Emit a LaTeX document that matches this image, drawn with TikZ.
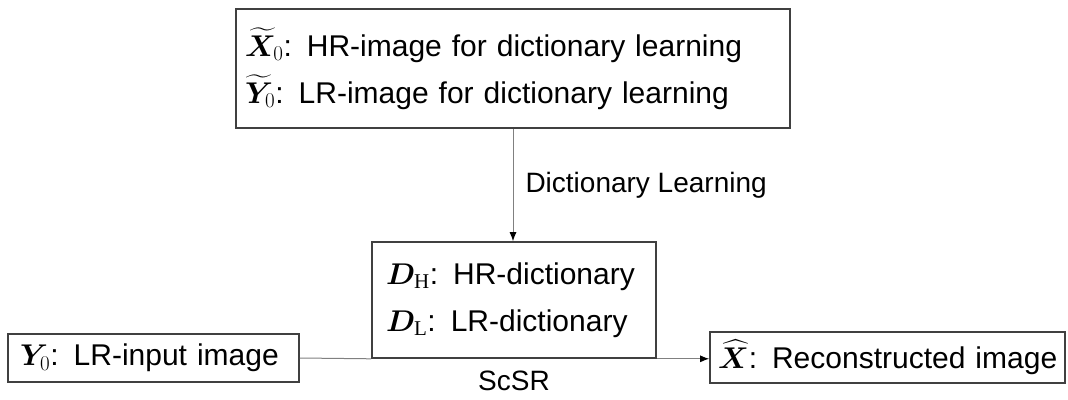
\RequirePackage{fix-cm}
\documentclass[tikz,border=0pt]{standalone}
\usepackage{amsmath}
\usepackage{bm}
\usepackage{fontspec}
\setmainfont{Liberation Sans}
\newfontfamily\subfont{Liberation Serif}
\usetikzlibrary{arrows.meta}

\begin{document}
\begin{tikzpicture}[x=1pt, y=-1pt, font=\fontsize{28}{46}\selectfont,
    box/.style={draw=black!75, line width=1.6pt, inner ysep=0pt, align=left,
      font=\fontsize{30}{47}\selectfont},
    link/.style={draw=black!50, line width=1pt}]
  \useasboundingbox (0,0) rectangle (1068,399);
  % boxes
  \node[box, inner xsep=9pt, text width=536pt, minimum height=119pt] (train) at (513,68.5)
    {$\bm{\widetilde{X}}_0$: HR-image for dictionary learning\\
     $\bm{\widetilde{Y}}_0$: LR-image for dictionary learning};
  \node[box, inner xsep=14pt, text width=256pt, minimum height=116pt] (dict) at (514,300)
    {$\bm{D}_{\text{\subfont H}}$: HR-dictionary\\
     $\bm{D}_{\text{\subfont L}}$: LR-dictionary};
  \node[box, inner xsep=12pt, text width=267pt, minimum height=48pt] (input) at (153.5,358)
    {\mbox{$\bm{Y}_0$: LR-input image}};
  \node[box, inner xsep=8pt, text width=339pt, minimum height=51pt] (output) at (887.5,357.5)
    {\mbox{$\bm{\widehat{X}}$: Reconstructed image}};
  % connectors
  \draw[link, -{Latex[black, length=9pt, width=7pt]}] (train.south -| 513,0) -- (dict.north -| 513,0)
    node[midway, right, black, inner sep=12pt] (dl) {Dictionary Learning};
  \draw[link] (input.east) -- (dict.south west);
  \draw[link, -{Latex[black, length=9pt, width=7pt]}] (dict.south east) -- (dict.south east -| output.west);
  \node[below, inner sep=12pt] (scsr) at (dict.south) {ScSR};
\end{tikzpicture}
\end{document}
